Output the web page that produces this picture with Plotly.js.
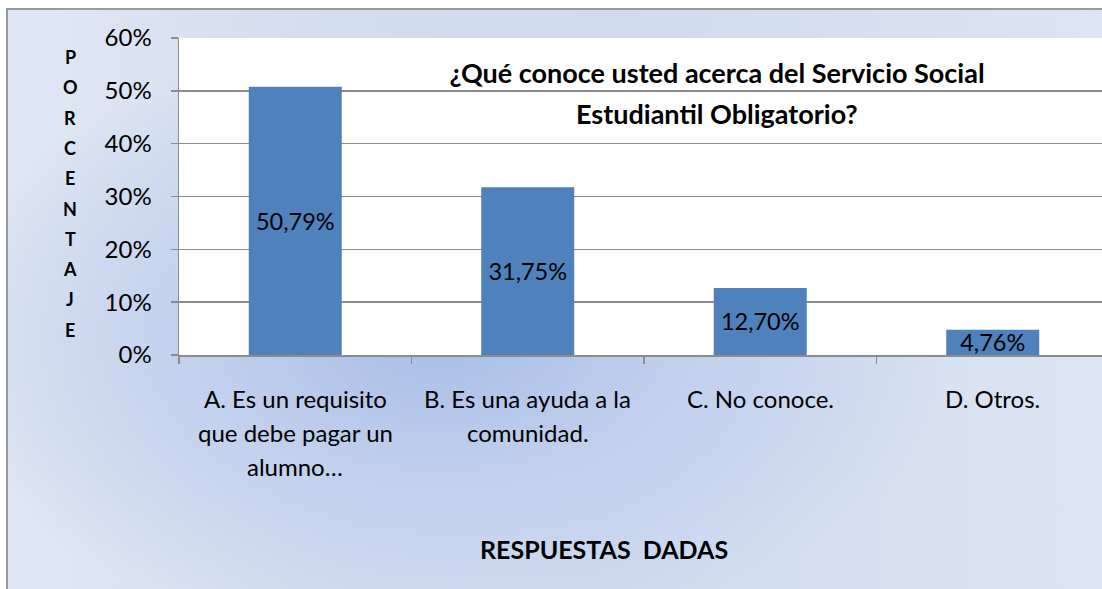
<!DOCTYPE html>
<html>
<head>
<meta charset="utf-8">
<script src="https://cdn.plot.ly/plotly-3.0.1.min.js"></script>
<style>
  html, body { margin: 0; padding: 0; background: #ffffff; overflow: hidden; }
  #frame {
    position: absolute; left: 6px; top: 8px; width: 1120px; height: 620px;
    border: 2px solid #9a9a9a; box-sizing: border-box;
    background:
      radial-gradient(ellipse 520px 300px at 430px 330px, rgba(168,190,230,1) 0%, rgba(190,206,236,0.9) 45%, rgba(222,230,244,0) 100%),
      linear-gradient(to right, #e0e7f4 0%, #d3ddf0 30%, #d0dbf0 55%, #dde5f3 100%);
  }
  #chart { position: absolute; left: 0; top: 0; width: 1102px; height: 589px; }
</style>
</head>
<body>
<div id="frame"></div>
<div id="chart"></div>
<script>
// ---- data ----
const categories = [
  'A. Es un requisito que debe pagar un alumno…',
  'B. Es una ayuda a la comunidad.',
  'C. No conoce.',
  'D. Otros.'
];
const categoryLines = [
  ['A. Es un requisito', 'que debe pagar un', 'alumno…'],
  ['B. Es una ayuda a la', 'comunidad.'],
  ['C. No conoce.'],
  ['D. Otros.']
];
const values = [0.5079, 0.3175, 0.1270, 0.0476];
const yTickVals = [0, 0.1, 0.2, 0.3, 0.4, 0.5, 0.6];
const yTickLabels = ['0%', '10%', '20%', '30%', '40%', '50%', '60%'];
const titleLine1 = '¿Qué conoce usted acerca del Servicio Social';
const titleLine2 = 'Estudiantil Obligatorio?';
const yTitleLetters = ['P', 'O', 'R', 'C', 'E', 'N', 'T', 'A', 'J', 'E'];
const xTitle = 'RESPUESTAS  DADAS';

// ---- styling ----
const FONT = 'Lato, "Open Sans", sans-serif';
const barText = values.map(v => (v * 100).toFixed(2).replace('.', ',') + '%');

const trace = {
  type: 'bar',
  x: categories,
  y: values,
  width: 0.4,
  marker: { color: '#4f81bd', line: { width: 0 } },
  text: barText,
  textposition: 'inside',
  insidetextanchor: 'middle',
  constraintext: 'none',
  textfont: { family: FONT, size: 23.5, color: '#000000' },
  hoverinfo: 'x+y'
};

const annotations = [];
// category labels (multi-line with wide spacing)
categoryLines.forEach((lines, ci) => {
  lines.forEach((line, li) => {
    annotations.push({
      text: line, xref: 'x', yref: 'paper', x: categories[ci], y: 0,
      xanchor: 'center', yanchor: 'middle', yshift: -(43 + li * 34),
      showarrow: false, font: { family: FONT, size: 24, color: '#000000' }
    });
  });
});
// vertical stacked axis title
yTitleLetters.forEach((ch, i) => {
  annotations.push({
    text: '<b>' + ch + '</b>', xref: 'paper', yref: 'paper', x: 0, y: 1,
    xshift: -109, yshift: -(19 + i * 30.3), xanchor: 'center', yanchor: 'middle',
    showarrow: false, font: { family: FONT, size: 18, color: '#000000' }
  });
});
// title line 2
annotations.push({
  text: '<b>' + titleLine2 + '</b>', xref: 'paper', yref: 'paper', x: 0.583, y: 1,
  yshift: -75, xanchor: 'center', yanchor: 'middle', showarrow: false,
  font: { family: FONT, size: 27, color: '#000000' }
});
// x axis title
annotations.push({
  text: '<b>' + xTitle + '</b>', xref: 'paper', yref: 'paper', x: 0.4605, y: 0,
  yshift: -194, xanchor: 'center', yanchor: 'middle', showarrow: false,
  font: { family: FONT, size: 25, color: '#000000' }
});

const layout = {
  width: 1102, height: 589,
  margin: { l: 179, r: 0, t: 38, b: 234, pad: 0 },
  paper_bgcolor: 'rgba(0,0,0,0)',
  plot_bgcolor: '#ffffff',
  separators: ',.',
  showlegend: false,
  title: {
    text: '<b>' + titleLine1 + '</b>',
    xref: 'container', yref: 'container',
    x: 717 / 1102, y: 1 - 74 / 589, xanchor: 'center', yanchor: 'middle',
    font: { family: FONT, size: 27, color: '#000000' }
  },
  xaxis: {
    type: 'category',
    range: [-0.5, 3.47],
    showticklabels: false,
    ticks: 'outside', tickson: 'boundaries', ticklen: 7, tickcolor: '#8c8c8c', tickwidth: 1.5,
    showline: true, linecolor: '#8c8c8c', linewidth: 1.5,
    showgrid: false, zeroline: false, fixedrange: true
  },
  yaxis: {
    range: [0, 0.6],
    tickvals: yTickVals, ticktext: yTickLabels,
    ticks: 'outside', ticklen: 7, tickcolor: '#8c8c8c', tickwidth: 1.5,
    ticklabelstandoff: 14,
    tickfont: { family: FONT, size: 24, color: '#000000' },
    showline: true, linecolor: '#8c8c8c', linewidth: 1.5,
    showgrid: true, gridcolor: '#8c8c8c', gridwidth: 1.5,
    zeroline: false, fixedrange: true
  },
  annotations: annotations
};

Plotly.newPlot('chart', [trace], layout, { displayModeBar: false, staticPlot: true });
</script>
</body>
</html>
